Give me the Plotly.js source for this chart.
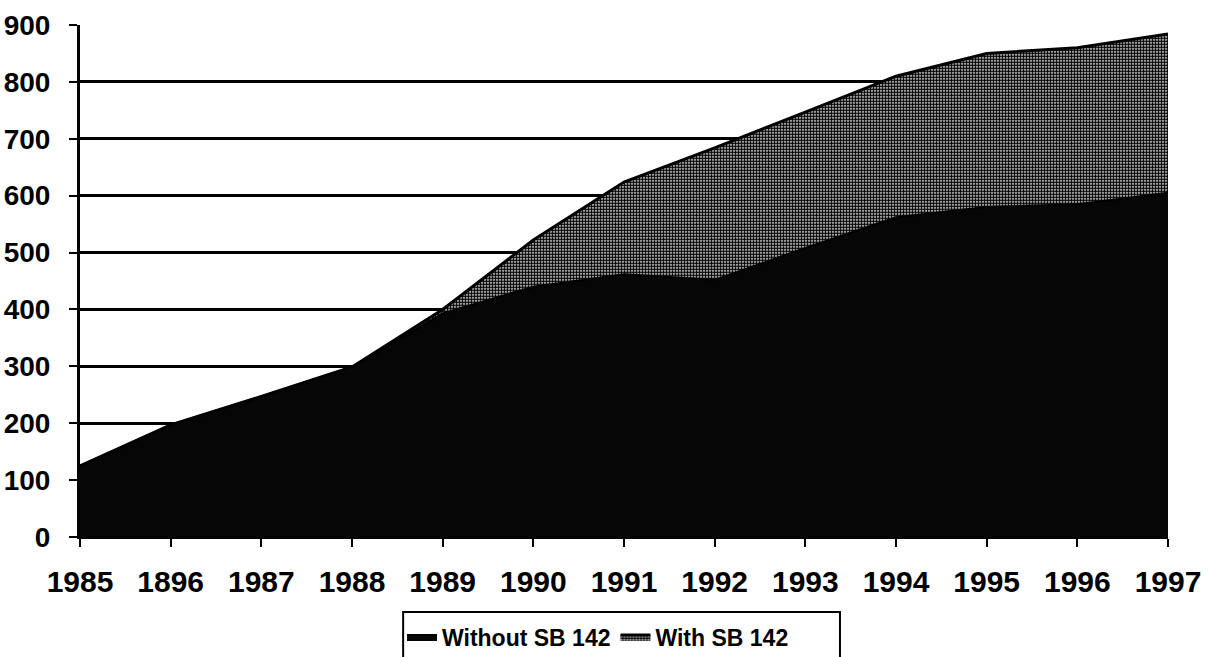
<!DOCTYPE html>
<html>
<head>
<meta charset="utf-8">
<script src="https://cdn.plot.ly/plotly-3.0.1.min.js"></script>
<style>html,body{margin:0;padding:0;background:#fff;}#chart{width:1209px;height:657px;}</style>
</head>
<body>
<div id="chart"></div>
<script>
const years = ["1985","1896","1987","1988","1989","1990","1991","1992","1993","1994","1995","1996","1997"];
const withSB142 = [125, 197, 247, 299, 400, 522, 624, 684, 747, 810, 850, 860, 884];
const withoutSB142 = [125, 197, 247, 299, 393, 440, 462, 452, 508, 562, 580, 585, 605];
const yTicks = [0, 100, 200, 300, 400, 500, 600, 700, 800, 900];

const traces = [
  {
    x: years, y: withSB142, name: "With SB 142", type: "scatter", mode: "lines",
    fill: "tozeroy",
    fillcolor: "#808080",
    fillpattern: {shape: ".", fgcolor: "#000000", bgcolor: "#ffffff", size: 3, solidity: 0.7},
    line: {color: "#000000", width: 3},
    legendrank: 2
  },
  {
    x: years, y: withoutSB142, name: "Without SB 142", type: "scatter", mode: "lines",
    fill: "tozeroy",
    fillcolor: "#060606",
    line: {color: "#000000", width: 2},
    legendrank: 1
  }
];

const layout = {
  width: 1209, height: 657,
  margin: {l: 80, r: 41, t: 25, b: 120},
  paper_bgcolor: "#ffffff", plot_bgcolor: "#ffffff",
  font: {family: "Arial, 'Liberation Sans', sans-serif", color: "#000000"},
  showlegend: true,
  legend: {
    orientation: "h", xref: "container", yref: "container",
    x: 0.3325, xanchor: "left", y: 0.0304, yanchor: "middle",
    borderwidth: 0, bgcolor: "rgba(0,0,0,0)",
    font: {size: 23, weight: "bold", color: "#000"},
    itemwidth: 30, tracegroupgap: 0
  },
  shapes: [
    {type: "rect", xref: "paper", yref: "paper", x0: 0.297, x1: 0.6985, y0: -0.1465, y1: -0.30,
     line: {color: "#000", width: 2}, fillcolor: "rgba(0,0,0,0)", layer: "above"}
  ],
  xaxis: {
    type: "category", range: [0, 12], automargin: false,
    tickvals: years, ticktext: years,
    ticks: "outside", ticklen: 8, tickwidth: 2, tickcolor: "#000",
    ticklabelstandoff: 9,
    showline: true, linecolor: "#000", linewidth: 2,
    showgrid: false, zeroline: false,
    tickfont: {size: 30, weight: "bold", color: "#000"}
  },
  yaxis: {
    range: [0, 900], tickvals: yTicks, automargin: false,
    ticks: "outside", ticklen: 8, tickwidth: 2, tickcolor: "#000",
    ticklabelstandoff: 13,
    showline: true, linecolor: "#000", linewidth: 3,
    showgrid: true, gridcolor: "#000", gridwidth: 3,
    zeroline: false,
    tickfont: {size: 28, weight: "bold", color: "#000"}
  }
};

Plotly.newPlot("chart", traces, layout, {displayModeBar: false, staticPlot: true});
</script>
</body>
</html>
